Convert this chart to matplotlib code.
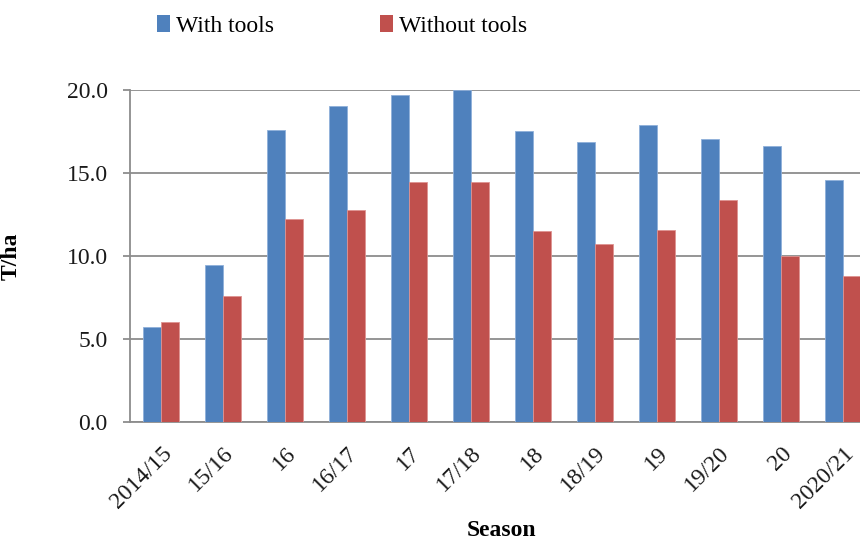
import matplotlib
matplotlib.use("Agg")
import matplotlib.pyplot as plt
import numpy as np
from matplotlib.patches import Patch

seasons = ["2014/15", "15/16", "16", "16/17", "17", "17/18",
           "18", "18/19", "19", "19/20", "20", "2020/21"]
with_tools = [5.75, 9.46, 17.57, 19.02, 19.7, 20.0,
              17.55, 16.85, 17.9, 17.03, 16.65, 14.57]
without_tools = [6.01, 7.6, 12.22, 12.8, 14.45, 14.45,
                 11.52, 10.7, 11.58, 13.39, 10.0, 8.78]
y_ticks = [0, 5, 10, 15, 20]

plt.rcParams["font.family"] = ["Liberation Serif", "DejaVu Serif"]

blue = "#4F81BD"
red = "#C0504D"
grid_gray = "#8C8C8C"
fs = 17

fig = plt.figure(figsize=(8.6, 5.42), dpi=100)
ax = fig.add_axes([130 / 860, 120 / 542, 744 / 860, 332 / 542])

x = np.arange(len(seasons))
w = 0.287
ax.bar(x - w / 2, with_tools, width=w, color=blue,
       edgecolor="#8FB0DA", linewidth=0.6, zorder=3)
ax.bar(x + w / 2, without_tools, width=w, color=red,
       edgecolor="#DE9391", linewidth=0.6, zorder=3)

ax.set_xlim(-0.5, len(seasons) - 0.5)
ax.set_ylim(0, 20)
ax.set_yticks(y_ticks)
ax.set_yticklabels([f"{v:.1f}" for v in y_ticks], fontsize=fs)
ax.yaxis.grid(True, color=grid_gray, linewidth=1.3, zorder=0)
ax.set_axisbelow(True)
ax.tick_params(axis="y", length=5, width=1.3, color=grid_gray,
               direction="out", pad=11, labelcolor="#1a1a1a")

ax.set_xticks(x)
ax.set_xticklabels(seasons, rotation=45, ha="right",
                   rotation_mode="anchor", fontsize=fs)
ax.tick_params(axis="x", length=0, pad=15, labelcolor="#1a1a1a")

for side in ("top", "right"):
    ax.spines[side].set_visible(False)
for side in ("left", "bottom"):
    ax.spines[side].set_color(grid_gray)
    ax.spines[side].set_linewidth(1.3)

ax.set_ylabel("T/ha", fontsize=fs, fontweight="bold")
ax.yaxis.set_label_coords((22 - 130) / 744, 0.5)
fig.text(502 / 860, 1 - 530 / 542, "Season", fontsize=fs,
         fontweight="bold", ha="center", va="center")

handles = [Patch(facecolor=blue), Patch(facecolor=red)]
fig.legend(handles, ["With tools", "Without tools"], loc="center",
           bbox_to_anchor=(342 / 860, 1 - 26 / 542), ncol=2,
           frameon=False, fontsize=fs, handlelength=0.55,
           handleheight=0.75, handletextpad=0.25, columnspacing=4.5)

fig.savefig("out.png", dpi=100)
